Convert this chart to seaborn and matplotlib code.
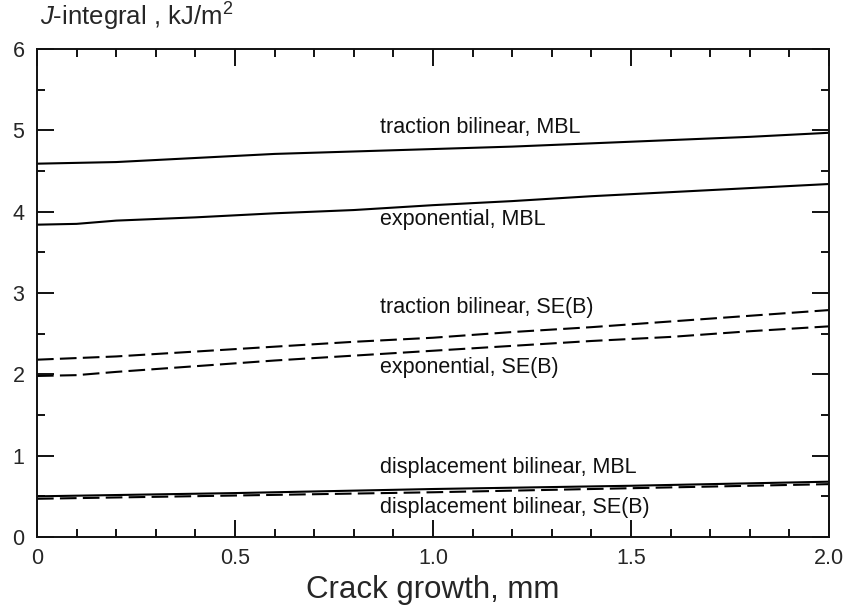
import matplotlib
matplotlib.use("Agg")
import matplotlib.pyplot as plt
import seaborn as sns
import pandas as pd
from matplotlib.ticker import MultipleLocator

# Crack growth (mm) and J-integral (kJ/m^2) for each cohesive law / geometry
x_fine = [0.0, 0.1, 0.2, 0.4, 0.6, 0.8, 1.0, 1.2, 1.4, 1.6, 1.8, 2.0]
x_coarse = [0.0, 0.2, 0.4, 0.6, 0.8, 1.0, 1.2, 1.4, 1.6, 1.8, 2.0]
x_disp = [0.0, 0.5, 1.0, 1.5, 2.0]

traction_mbl = [4.59, 4.61, 4.66, 4.71, 4.74, 4.77, 4.80, 4.84, 4.88, 4.92, 4.97]
exponential_mbl = [3.84, 3.85, 3.89, 3.93, 3.98, 4.02, 4.08, 4.13, 4.19, 4.24, 4.29, 4.34]
traction_seb = [2.18, 2.22, 2.28, 2.34, 2.40, 2.45, 2.52, 2.58, 2.65, 2.72, 2.79]
exponential_seb = [1.98, 1.99, 2.03, 2.10, 2.17, 2.23, 2.29, 2.35, 2.41, 2.46, 2.53, 2.59]
displacement_mbl = [0.50, 0.54, 0.59, 0.63, 0.68]
displacement_seb = [0.47, 0.51, 0.55, 0.60, 0.65]

labels = [
    ("traction bilinear, MBL", 0.866, 5.04),
    ("exponential, MBL", 0.866, 3.90),
    ("traction bilinear, SE(B)", 0.866, 2.82),
    ("exponential, SE(B)", 0.866, 2.09),
    ("displacement bilinear, MBL", 0.866, 0.85),
    ("displacement bilinear, SE(B)", 0.866, 0.36),
]

sns.set_style("ticks")
plt.rcParams["font.family"] = ["Liberation Sans", "DejaVu Sans"]
plt.rcParams["mathtext.fontset"] = "custom"
plt.rcParams["mathtext.rm"] = "Liberation Sans"
plt.rcParams["mathtext.it"] = "Liberation Sans:italic"

fig = plt.figure(figsize=(8.49, 6.09), dpi=100)
ax = fig.add_axes([37 / 849, 72 / 609, 792 / 849, 488 / 609])

dash = (0, (8, 3))
lw = 1.5
series = [
    (x_coarse, traction_mbl, "-"),
    (x_fine, exponential_mbl, "-"),
    (x_coarse, traction_seb, dash),
    (x_fine, exponential_seb, dash),
    (x_disp, displacement_mbl, "-"),
    (x_disp, displacement_seb, dash),
]
for xs, ys, ls in series:
    df = pd.DataFrame({"x": xs, "y": ys})
    sns.lineplot(data=df, x="x", y="y", ax=ax, color="black", linewidth=lw,
                 linestyle=ls, estimator=None, sort=False)

for text, tx, ty in labels:
    ax.text(tx, ty, text, fontsize=15.5, ha="left", va="center", color="#111111")

ax.set_xlim(0, 2.0)
ax.set_ylim(0, 6)
ax.xaxis.set_major_locator(MultipleLocator(0.5))
ax.xaxis.set_minor_locator(MultipleLocator(0.1))
ax.yaxis.set_major_locator(MultipleLocator(1))
ax.yaxis.set_minor_locator(MultipleLocator(0.5))
ax.set_xticks([0, 0.5, 1.0, 1.5, 2.0])
ax.set_xticklabels(["0", "0.5", "1.0", "1.5", "2.0"])
ax.set_yticks([0, 1, 2, 3, 4, 5, 6])
ax.set_yticklabels(["0", "1", "2", "3", "4", "5", "6"])

ax.tick_params(which="both", direction="in", top=True, right=True,
               color="#111111", width=1.4, labelsize=15.5)
ax.tick_params(which="major", length=12)
ax.tick_params(which="minor", length=6)
ax.tick_params(axis="x", which="major", pad=8)
ax.tick_params(axis="y", which="major", pad=9)
for sp in ax.spines.values():
    sp.set_linewidth(1.4)
    sp.set_color("#111111")

ax.set_xlabel("Crack growth, mm", fontsize=22.5, labelpad=4)
ax.set_ylabel("")
fig.text(40 / 849, 1 - 17 / 609, "$J$-integral , kJ/m$^2$", fontsize=18.5,
         ha="left", va="center")

fig.savefig("out.png", dpi=100)
